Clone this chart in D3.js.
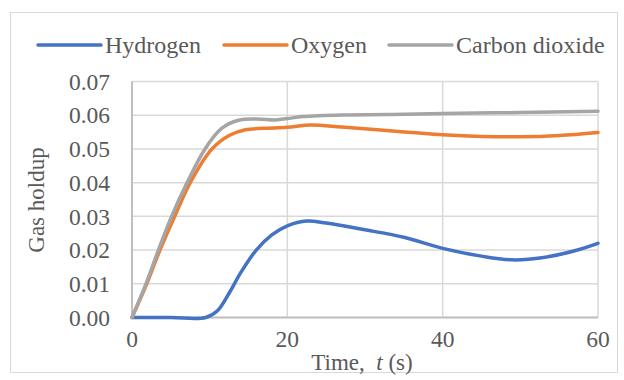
<!DOCTYPE html>
<html>
<head>
<meta charset="utf-8">
<script src="https://cdn.jsdelivr.net/npm/d3@7"></script>
<style>
  html, body { margin: 0; padding: 0; background: #fff; }
  svg text { font-family: "Liberation Serif", "DejaVu Serif", serif; }
</style>
</head>
<body>
<div id="chart"></div>
<script>
// gas holdup vs time
const seriesNames = ["Hydrogen", "Oxygen", "Carbon dioxide"];
const seriesColors = ["#4472C4", "#ED7D31", "#A5A5A5"];

const hydrogenT = [0, 5, 9.5, 11, 12.5, 14, 16, 18, 20, 22.5, 25, 30, 35, 40, 45, 49, 53, 57, 60];
const hydrogenV = [0, 0, 0, 0.002, 0.0072, 0.0133, 0.02, 0.0245, 0.0272, 0.0286, 0.028, 0.026, 0.0238, 0.0205, 0.0182, 0.0171, 0.0178, 0.0198, 0.022];

const oxygenT = [0, 1.9, 3.6, 5.5, 7.5, 10.3, 12.5, 14.6, 17, 20, 23, 27, 32, 36, 40, 45, 50, 55, 60];
const oxygenV = [0, 0.01, 0.02, 0.03, 0.04, 0.05, 0.054, 0.0557, 0.0561, 0.0564, 0.0571, 0.0565, 0.0556, 0.0549, 0.0542, 0.0537, 0.0536, 0.054, 0.0549];

const co2T = [0, 1.8, 3.4, 5.1, 7.1, 9.4, 11.5, 13.7, 16, 18.5, 20, 22, 27, 33, 40, 50, 60];
const co2V = [0, 0.01, 0.02, 0.03, 0.04, 0.05, 0.056, 0.0585, 0.0589, 0.0586, 0.059, 0.0596, 0.0601, 0.0602, 0.0605, 0.0608, 0.0612];

const xTicks = [0, 20, 40, 60];
const yTicks = [0, 0.01, 0.02, 0.03, 0.04, 0.05, 0.06, 0.07];

const width = 624, height = 380;
const plot = {left: 132, right: 598, top: 81.5, bottom: 317.5};
const fontFamily = "Liberation Serif, DejaVu Serif, serif";

const svg = d3.select("#chart").append("svg")
    .attr("width", width)
    .attr("height", height)
    .attr("font-family", fontFamily);

// outer chart frame
svg.append("rect")
    .attr("x", 10.5).attr("y", 12.5)
    .attr("width", 607).attr("height", 360)
    .attr("fill", "#fff")
    .attr("stroke", "#D9D9D9");

const x = d3.scaleLinear().domain([0, 60]).range([plot.left, plot.right]);
const y = d3.scaleLinear().domain([0, 0.07]).range([plot.bottom, plot.top]);

// gridlines
svg.append("g")
  .selectAll("line")
  .data(yTicks)
  .join("line")
    .attr("x1", plot.left).attr("x2", plot.right)
    .attr("y1", d => y(d)).attr("y2", d => y(d))
    .attr("stroke", "#D9D9D9")
    .attr("stroke-width", 1.5);

svg.append("g")
  .selectAll("line")
  .data(xTicks)
  .join("line")
    .attr("x1", d => x(d)).attr("x2", d => x(d))
    .attr("y1", plot.top).attr("y2", plot.bottom)
    .attr("stroke", "#D9D9D9")
    .attr("stroke-width", 1.5);

// axis lines
svg.append("line")
    .attr("x1", plot.left).attr("x2", plot.right)
    .attr("y1", plot.bottom).attr("y2", plot.bottom)
    .attr("stroke", "#BFBFBF").attr("stroke-width", 2);
svg.append("line")
    .attr("x1", plot.left).attr("x2", plot.left)
    .attr("y1", plot.top).attr("y2", plot.bottom)
    .attr("stroke", "#BFBFBF").attr("stroke-width", 2);

// tick labels
svg.append("g")
  .selectAll("text")
  .data(yTicks)
  .join("text")
    .attr("x", 110)
    .attr("y", d => y(d))
    .attr("dy", "0.35em")
    .attr("text-anchor", "end")
    .attr("font-size", 23.5)
    .attr("fill", "#595959")
    .text(d => d3.format(".2f")(d));

svg.append("g")
  .selectAll("text")
  .data(xTicks)
  .join("text")
    .attr("x", d => x(d))
    .attr("y", 347)
    .attr("text-anchor", "middle")
    .attr("font-size", 23.5)
    .attr("fill", "#595959")
    .text(d => d);

// axis titles
const xt = svg.append("text")
    .attr("x", 362)
    .attr("y", 370)
    .attr("text-anchor", "middle")
    .attr("font-size", 23)
    .attr("fill", "#595959");
xt.append("tspan").text("Time,\u00a0\u00a0");
xt.append("tspan").attr("font-style", "italic").text("t");
xt.append("tspan").text(" (s)");

svg.append("text")
    .attr("transform", "translate(44,200) rotate(-90)")
    .attr("text-anchor", "middle")
    .attr("font-size", 23)
    .attr("fill", "#595959")
    .text("Gas holdup");

// series
const series = [
  {t: hydrogenT, v: hydrogenV},
  {t: oxygenT, v: oxygenV},
  {t: co2T, v: co2V}
];

const line = d3.line()
    .x(d => x(d[0]))
    .y(d => y(d[1]))
    .curve(d3.curveCatmullRom.alpha(0.5));

svg.append("g")
  .selectAll("path")
  .data(series)
  .join("path")
    .attr("d", s => line(s.t.map((t, i) => [t, s.v[i]])))
    .attr("fill", "none")
    .attr("stroke", (s, i) => seriesColors[i])
    .attr("stroke-width", 3.5)
    .attr("stroke-linejoin", "round")
    .attr("stroke-linecap", "round");

// legend
const legendX = [38, 224, 389];
const legend = svg.append("g")
  .selectAll("g")
  .data(seriesNames)
  .join("g")
    .attr("transform", (d, i) => `translate(${legendX[i]},45)`);

legend.append("line")
    .attr("x1", 0).attr("x2", 63)
    .attr("stroke", (d, i) => seriesColors[i])
    .attr("stroke-width", 3.5)
    .attr("stroke-linecap", "round");

legend.append("text")
    .attr("x", 67)
    .attr("dy", "0.33em")
    .attr("font-size", 24)
    .attr("fill", "#595959")
    .text(d => d);
</script>
</body>
</html>
